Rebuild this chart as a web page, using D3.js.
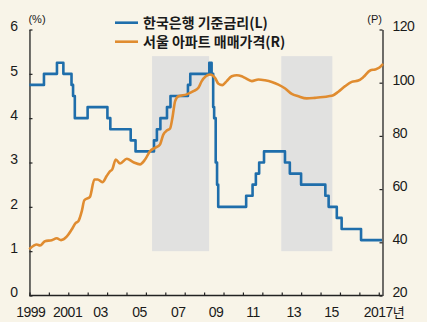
<!DOCTYPE html>
<html><head><meta charset="utf-8">
<script src="https://cdn.jsdelivr.net/npm/d3@7"></script>
<style>
html,body{margin:0;padding:0;background:#f8f4e8;}
svg{display:block;}
text{font-family:"Liberation Sans",Arial,sans-serif;fill:#1a1a1a;}
.kr{font-family:"Noto Sans CJK KR","Noto Sans",sans-serif;}
</style></head>
<body><svg id="c" width="427" height="322"></svg>
<script>
// ---- data ----
const rateDates = [1999.33,2000.08,2000.75,2001.08,2001.5,2001.58,2001.67,2002.33,2003.35,2003.5,
  2004.55,2004.8,2005.75,2005.9,2006.08,2006.42,2006.6,2007.5,2007.62,2008.6,
  2008.72,2008.8,2008.85,2008.93,2009.0,2009.06,2010.5,2010.83,2011.0,2011.17,
  2011.42,2012.5,2012.75,2013.33,2014.58,2014.75,2015.17,2015.42,2016.42,2017.5];
const rateValues = [4.75,5.0,5.25,5.0,4.75,4.5,4.0,4.25,4.0,3.75,
  3.5,3.25,3.5,3.75,4.0,4.25,4.5,4.75,5.0,5.25,
  5.0,4.25,4.0,3.0,2.5,2.0,2.25,2.5,2.75,3.0,
  3.25,3.0,2.75,2.5,2.25,2.0,1.75,1.5,1.25,1.25];
const priceDates = [1999.36,1999.71,1999.88,2000.13,2000.48,2000.74,2000.96,2001.25,2001.51,2001.72,
  2001.85,2002.03,2002.16,2002.45,2002.68,2002.85,2003.09,2003.31,2003.48,2003.60,
  2003.78,2004.00,2004.35,2004.69,2005.03,2005.29,2005.55,2005.80,2006.06,2006.23,
  2006.41,2006.58,2006.70,2006.84,2007.01,2007.44,2007.78,2008.04,2008.21,2008.42,
  2008.64,2008.90,2009.07,2009.27,2009.50,2009.76,2010.02,2010.27,2010.44,2010.79,
  2011.13,2011.47,2011.82,2012.16,2012.51,2012.85,2013.19,2013.62,2014.05,2014.48,
  2014.74,2014.99,2015.25,2015.60,2015.94,2016.28,2016.54,2016.89,2017.14,2017.35,2017.52];
const priceValues = [37.7,39.2,38.8,40.4,40.8,41.5,40.8,42.1,44.8,47.3,
  47.9,51.7,55.8,57.1,63.6,63.6,62.6,64.9,66.7,67.4,
  71.1,69.6,71.4,70.1,69.3,71.1,74.3,75.5,76.8,80.5,
  82.0,82.8,86.8,93.1,94.9,95.6,96.8,98.1,100.6,102.4,
  103.1,101.8,99.6,99.1,100.6,102.4,102.8,102.4,101.8,100.6,
  101.2,100.9,100.3,99.3,97.8,95.8,94.9,94.1,94.3,94.6,
  94.9,95.3,96.6,98.7,100.3,100.8,102.1,104.6,105.0,105.6,106.8];
const shadeStart = [2005.65, 2012.31];
const shadeEnd = [2008.59, 2014.94];
const shadeTop = 5.4, shadeBottom = 1.0;
const leftTicks = [0,1,2,3,4,5,6];
const rightTicks = [20,40,60,80,100,120];
const yearTicks = d3.range(1999, 2018);
const xLabels = ["1999","2001","03","05","07","09","11","13","15","2017년"];
const xLabelPos = [1999.4,2001.3,2003,2005,2007,2008.95,2010.85,2012.95,2014.9,2017.6];
const legendLabels = ["한국은행 기준금리(L)","서울 아파트 매매가격(R)"];
const colors = ["#1f6eab","#e08c30"];

// ---- scales ----
const x = d3.scaleLinear().domain([1999, 2017.5]).range([23, 382]);
const yL = d3.scaleLinear().domain([0, 6]).range([295.5, 29.5]);
const yR = d3.scaleLinear().domain([20, 120]).range([295.5, 29.5]);
const svg = d3.select("#c");
svg.append("rect").attr("width",427).attr("height",322).attr("fill","#f8f4e8");

// shaded periods
svg.selectAll("rect.shade").data(shadeStart).enter().append("rect")
  .attr("class","shade")
  .attr("x", d => x(d)).attr("width", (d,i) => x(shadeEnd[i]) - x(d))
  .attr("y", yL(shadeTop)).attr("height", yL(shadeBottom) - yL(shadeTop))
  .attr("fill","#e1e1e0");

// axes
const axisColor = "#222";
const gl = svg.append("g").attr("transform",`translate(${x(1999+1/3)},0)`)
  .call(d3.axisLeft(yL).tickValues(leftTicks).tickSizeInner(-3).tickSizeOuter(0).tickPadding(12).tickFormat(d3.format("d")));
const gr = svg.append("g").attr("transform",`translate(${x(2017.5)+0.5},0)`)
  .call(d3.axisRight(yR).tickValues(rightTicks).tickSizeInner(-3).tickSizeOuter(0).tickPadding(10).tickFormat(d3.format("d")));
const gx = svg.append("g").attr("transform",`translate(0,${yL(0)})`)
  .call(d3.axisBottom(x).tickValues(yearTicks.map(d => d + 1/3)).tickSizeInner(-3).tickSizeOuter(0).tickFormat(""));
[gl,gr,gx].forEach(g => {
  g.select(".domain").attr("stroke",axisColor).attr("stroke-width",1.3);
  g.selectAll(".tick line").attr("stroke",axisColor).attr("stroke-width",1.2);
  g.selectAll("text").attr("font-size",14).attr("fill","#1a1a1a")
    .attr("font-family","Liberation Sans, Arial, sans-serif").attr("letter-spacing","-0.5");
});
gl.selectAll(".tick text").attr("dy","0.1em");
gr.selectAll(".tick text").attr("dy","0.1em");
gx.select(".domain").attr("d", `M${x(1999+1/3)},0H${x(2017.5)+0.5}`);

svg.selectAll("text.xl").data(xLabels).enter().append("text")
  .attr("class", d => /년/.test(d) ? "xl kr" : "xl")
  .attr("x", (d,i) => x(xLabelPos[i])).attr("y", 317)
  .attr("text-anchor","middle").attr("font-size",14).attr("letter-spacing","-0.5")
  .text(d => d);
// render digits in Liberation, 년 in CJK
svg.selectAll("text.xl").filter(d => /년/.test(d)).each(function(d){
  const t = d3.select(this).text(null).attr("class","xl");
  t.append("tspan").text(d.replace("년",""));
  t.append("tspan").attr("font-family","Noto Sans CJK KR").attr("font-size",13).text("년");
});

svg.append("text").attr("x", x(1999+1/3) - 1).attr("y", 23).attr("font-size",11).text("(%)");
svg.append("text").attr("x", x(2017.5)).attr("y", 23).attr("font-size",11).attr("text-anchor","end").text("(P)");

// lines
const rateLine = d3.line().x(d => x(d[0])).y(d => yL(d[1])).curve(d3.curveStepAfter);
const priceLine = d3.line().x(d => x(d[0])).y(d => yR(d[1])).curve(d3.curveMonotoneX);
svg.append("path").datum(rateDates.map((d,i) => [d, rateValues[i]]))
  .attr("d", rateLine).attr("fill","none").attr("stroke",colors[0]).attr("stroke-width",2.6)
  .attr("stroke-linejoin","round");
svg.append("path").datum(priceDates.map((d,i) => [d, priceValues[i]]))
  .attr("d", priceLine).attr("fill","none").attr("stroke",colors[1]).attr("stroke-width",2.6)
  .attr("stroke-linejoin","round").attr("stroke-linecap","round");

// legend
const lg = svg.append("g");
legendLabels.forEach((lab, i) => {
  const yy = 22.7 + i * 19;
  lg.append("line").attr("x1",115).attr("x2",138).attr("y1",yy).attr("y2",yy)
    .attr("stroke",colors[i]).attr("stroke-width",2.6);
  lg.append("text").attr("class","kr").attr("x",143).attr("y",yy + 5)
    .attr("font-size",14).attr("font-weight",700).attr("fill","#1a1a1a").text(lab);
});
</script></body></html>
